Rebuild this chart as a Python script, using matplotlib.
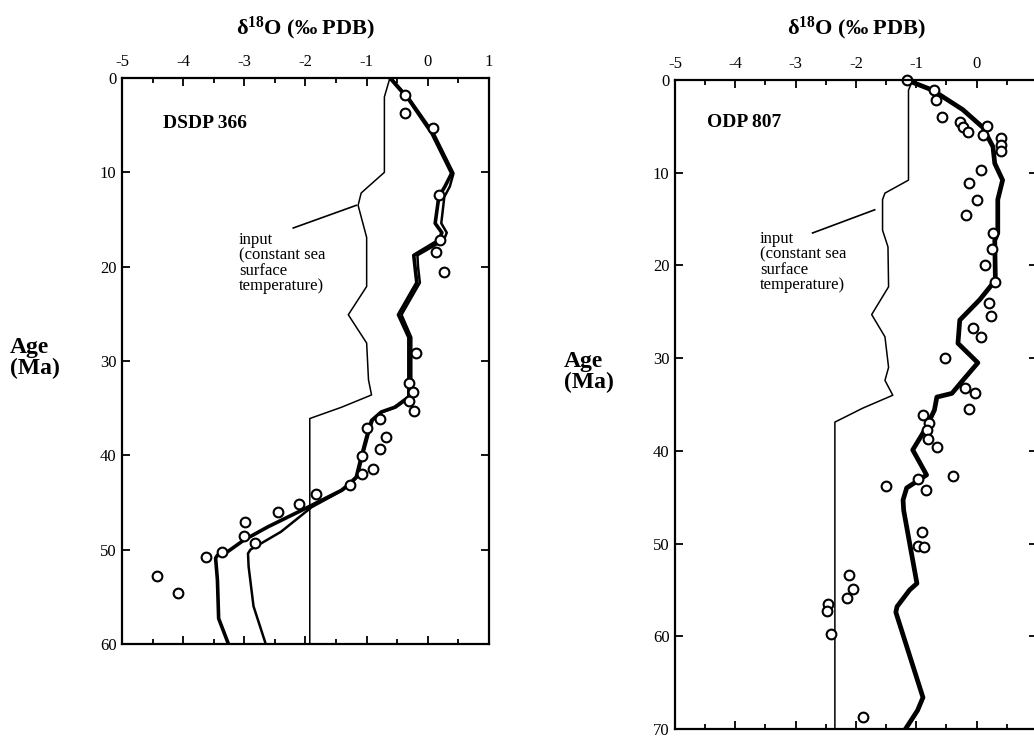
import numpy as np
import matplotlib
matplotlib.use("Agg")
import matplotlib.pyplot as plt
from matplotlib.ticker import MultipleLocator

plt.rcParams['font.family'] = ['Liberation Serif', 'DejaVu Serif']
plt.rcParams['axes.unicode_minus'] = False
plt.rcParams['mathtext.fontset'] = 'custom'
plt.rcParams['mathtext.rm'] = 'Liberation Serif'
plt.rcParams['mathtext.bf'] = 'Liberation Serif:bold'

# ---- DSDP 366 (left) ----
l_input_age = [0, 2, 10, 11.9, 12.2, 13.5, 16.9, 22.1, 25.1, 28.1, 32, 33.6, 34.9, 36.1, 60]
l_input_d18 = [-0.62, -0.71, -0.71, -1.04, -1.09, -1.14, -1.0, -1.0, -1.3, -1.0, -0.97, -0.92, -1.41, -1.93, -1.93]

l_modA_age = [0, 2.3, 5.9, 10.1, 11.5, 12.6, 15.4, 16.4, 17.2, 18.8, 20, 21.7, 25.1, 27.5, 32,
              33.8, 34.9, 35.4, 36.3, 37.3, 40.2, 42.3, 43, 43.7, 45.5, 47.6, 49, 50.2, 50.6,
              50.9, 53.2, 57.3, 60]
l_modA_d18 = [-0.62, -0.31, 0.07, 0.39, 0.28, 0.18, 0.12, 0.23, 0.18, -0.23, -0.21, -0.18, -0.48,
              -0.31, -0.31, -0.31, -0.54, -0.76, -0.92, -0.97, -1.09, -1.17, -1.28, -1.41, -1.96,
              -2.62, -3.01, -3.27, -3.44, -3.47, -3.44, -3.42, -3.26]

l_modB_age = [0, 2.3, 5.9, 10.1, 11.5, 12.6, 15.4, 16.4, 17.2, 18.8, 20, 21.7, 25.1, 27.5, 32,
              33.8, 34.9, 35.4, 36.3, 37.3, 40.2, 42.3, 43, 43.7, 45.5, 48.1, 50, 50.4, 51.8,
              56, 60]
l_modB_d18 = [-0.6, -0.29, 0.1, 0.42, 0.36, 0.27, 0.22, 0.31, 0.26, -0.17, -0.16, -0.13, -0.43,
              -0.27, -0.27, -0.28, -0.52, -0.74, -0.9, -0.95, -1.07, -1.15, -1.26, -1.39, -1.9,
              -2.4, -2.9, -2.94, -2.93, -2.85, -2.65]

l_obs_d18 = [-0.38, -0.38, 0.08, 0.18, 0.2, 0.13, 0.26, -0.2, -0.3, -0.25, -0.3, -0.23, -0.79,
             -0.99, -0.69, -0.79, -1.07, -0.89, -1.07, -1.28, -1.83, -2.1, -2.45, -2.99, -3.01,
             -2.83, -3.36, -3.62, -4.43, -4.08]
l_obs_age = [1.8, 3.7, 5.3, 12.4, 17.2, 18.4, 20.6, 29.1, 32.3, 33.3, 34.2, 35.3, 36.2, 37.1,
             38.1, 39.3, 40.1, 41.5, 42, 43.1, 44.1, 45.2, 46, 47.1, 48.6, 49.3, 50.2, 50.8,
             52.8, 54.6]

# ---- ODP 807 (right) ----
r_input_age = [0, 1.1, 10.8, 12.2, 12.9, 16.2, 18, 22.3, 25.3, 27.7, 31, 32.4, 34, 35.4, 36.9, 70]
r_input_d18 = [-1.06, -1.13, -1.13, -1.52, -1.56, -1.56, -1.47, -1.46, -1.74, -1.52, -1.46,
               -1.52, -1.39, -1.89, -2.35, -2.35]

r_mod_age = [0, 1.1, 3.2, 5.1, 7.2, 9, 10.8, 12.9, 16.5, 17.3, 21.6, 23.7, 25.9, 28.4, 30.5,
             32.4, 33.8, 34.2, 35.6, 36.7, 37.4, 38.3, 39.9, 41.3, 42.6, 44, 45.3, 46.4, 54.3,
             55, 56.8, 57.4, 66.6, 68, 70]
r_mod_d18 = [-1.16, -0.73, -0.23, 0.1, 0.27, 0.3, 0.43, 0.35, 0.35, 0.3, 0.31, 0.05, -0.28,
             -0.31, 0.02, -0.23, -0.41, -0.66, -0.7, -0.78, -0.83, -0.91, -1.06, -0.94, -0.83,
             -1.16, -1.22, -1.21, -0.99, -1.11, -1.32, -1.34, -0.89, -0.98, -1.18]

r_obs_d18 = [-1.16, -0.7, -0.68, -0.58, -0.28, -0.23, -0.15, 0.17, 0.1, 0.41, 0.41, 0.41, 0.08,
             -0.12, 0, -0.17, 0.27, 0.26, 0.13, 0.31, 0.2, 0.23, -0.06, 0.08, -0.53, -0.2, -0.03,
             -0.13, -0.89, -0.79, -0.83, -0.81, -0.66, -0.98, -0.4, -1.51, -0.84, -0.91, -0.98,
             -0.88, -2.12, -2.05, -2.15, -2.47, -2.48, -2.42, -1.89]
r_obs_age = [0, 1.1, 2.2, 4, 4.5, 5.1, 5.6, 5, 5.9, 6.3, 7, 7.7, 9.7, 11.1, 12.9, 14.6, 16.5,
             18.2, 20, 21.8, 24.1, 25.5, 26.8, 27.7, 30, 33.2, 33.8, 35.5, 36.1, 37, 37.8, 38.7,
             39.6, 43, 42.7, 43.8, 44.2, 48.8, 50.3, 50.4, 53.4, 54.9, 55.9, 56.5, 57.3, 59.7,
             68.7]

x_ticks = [-5, -4, -3, -2, -1, 0, 1]

fig = plt.figure(figsize=(10.34, 7.38), dpi=100)
ax1 = fig.add_axes([0.118, 0.1274, 0.3549, 0.7669])
ax2 = fig.add_axes([0.6528, 0.0122, 0.3501, 0.8794])


def style(ax, ymax, xlabels):
    ax.set_xlim(-5, 1)
    ax.set_ylim(ymax, 0)
    ax.set_xticks(x_ticks)
    ax.set_xticklabels(xlabels)
    ax.xaxis.set_minor_locator(MultipleLocator(0.5))
    ax.set_yticks(range(0, ymax + 1, 10))
    ax.tick_params(axis='both', which='both', direction='in', top=True, bottom=True,
                   left=True, right=True, labeltop=True, labelbottom=False,
                   width=1.3, labelsize=12)
    ax.tick_params(axis='x', which='major', length=6, pad=6)
    ax.tick_params(axis='x', which='minor', length=3.5)
    ax.tick_params(axis='y', which='major', length=6, pad=4)
    for s in ax.spines.values():
        s.set_linewidth(1.6)


style(ax1, 60, [str(v) for v in x_ticks])
style(ax2, 70, [str(v) for v in x_ticks[:-1]] + [''])

# left panel
ax1.plot(l_input_d18, l_input_age, color='black', lw=1.1)
ax1.plot(l_modB_d18, l_modB_age, color='black', lw=1.8)
ax1.plot(l_modA_d18, l_modA_age, color='black', lw=2.6)
ax1.plot(l_obs_d18, l_obs_age, 'o', ms=7, mfc='white', mec='black', mew=1.5, clip_on=False)
ax1.text(-4.33, 4.8, 'DSDP 366', fontsize=14, fontweight='bold', va='center')
ax1.text(-3.09, 16.3, 'input\n(constant sea\nsurface\ntemperature)', fontsize=12,
         va='top', linespacing=0.95)
ax1.plot([-2.2, -1.17], [15.9, 13.5], color='black', lw=1.2)

# right panel
ax2.plot(r_input_d18, r_input_age, color='black', lw=1.1)
ax2.plot(r_mod_d18, r_mod_age, color='black', lw=3.4)
ax2.plot(r_obs_d18, r_obs_age, 'o', ms=7, mfc='white', mec='black', mew=1.5, clip_on=False)
ax2.text(-4.47, 4.6, 'ODP 807', fontsize=14, fontweight='bold', va='center')
ax2.text(-3.59, 16.3, 'input\n(constant sea\nsurface\ntemperature)', fontsize=12,
         va='top', linespacing=0.95)
ax2.plot([-2.72, -1.69], [16.5, 14.0], color='black', lw=1.2)

# titles and age labels
title = r'$\mathbf{\delta^{18}}$O (‰ PDB)'
fig.text(305 / 1034, 1 - 34 / 738, title, fontsize=16, fontweight='bold',
         ha='center', va='baseline')
fig.text(856 / 1034, 1 - 34 / 738, title, fontsize=16, fontweight='bold',
         ha='center', va='baseline')
fig.text(10 / 1034, 1 - 358 / 738, 'Age\n(Ma)', fontsize=17, fontweight='bold',
         ha='left', va='center', linespacing=0.95)
fig.text(564 / 1034, 1 - 372 / 738, 'Age\n(Ma)', fontsize=17, fontweight='bold',
         ha='left', va='center', linespacing=0.95)

fig.savefig('out.png', dpi=100)
